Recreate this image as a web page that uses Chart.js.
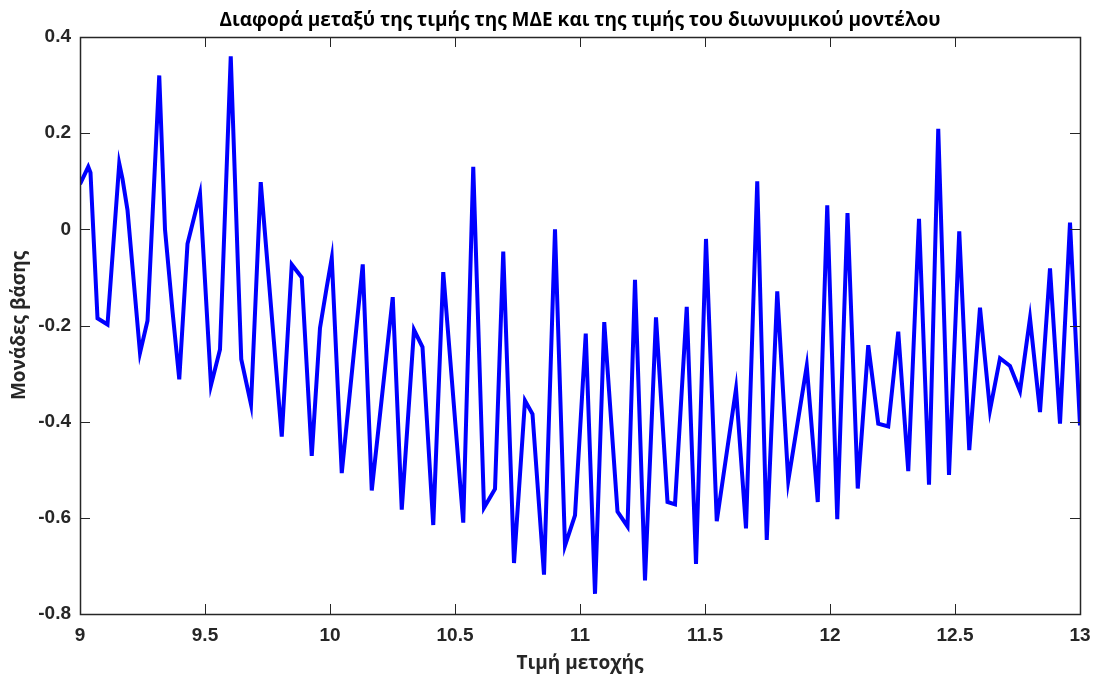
<!DOCTYPE html>
<html>
<head>
<meta charset="utf-8">
<script src="https://cdn.jsdelivr.net/npm/chart.js@4.4.1/dist/chart.umd.min.js"></script>
<style>
  html, body { margin: 0; padding: 0; background: #fff; }
  #wrap { width: 1095px; height: 680px; }
</style>
</head>
<body>
<div id="wrap"><canvas id="chart"></canvas></div>
<script>
// τιμή μετοχής (άξονας x)
const price = [
  9.000, 9.033, 9.042, 9.070, 9.110, 9.157, 9.170, 9.190, 9.240, 9.270,
  9.317, 9.340, 9.370, 9.397, 9.430, 9.480, 9.524, 9.560, 9.603, 9.630,
  9.645, 9.684, 9.723, 9.807, 9.847, 9.887, 9.927, 9.960, 9.987, 10.007,
  10.047, 10.131, 10.167, 10.251, 10.287, 10.336, 10.370, 10.413, 10.453, 10.533,
  10.573, 10.616, 10.660, 10.693, 10.736, 10.780, 10.810, 10.856, 10.900, 10.940,
  10.980, 11.023, 11.060, 11.097, 11.150, 11.190, 11.220, 11.260, 11.304, 11.350,
  11.380, 11.427, 11.464, 11.504, 11.547, 11.624, 11.664, 11.709, 11.747, 11.789,
  11.833, 11.907, 11.951, 11.989, 12.029, 12.070, 12.111, 12.153, 12.193, 12.233,
  12.273, 12.313, 12.356, 12.396, 12.433, 12.476, 12.517, 12.557, 12.600, 12.640,
  12.680, 12.720, 12.760, 12.800, 12.840, 12.880, 12.920, 12.960, 13.000
];

// διαφορά ΜΔΕ - διωνυμικού (μονάδες βάσης)
const diff = [
  0.094, 0.130, 0.118, -0.185, -0.198, 0.137, 0.105, 0.040, -0.257, -0.190,
  0.320, 0.000, -0.170, -0.312, -0.030, 0.074, -0.324, -0.250, 0.360, -0.050,
  -0.270, -0.364, 0.098, -0.431, -0.073, -0.100, -0.471, -0.205, -0.120, -0.060,
  -0.507, -0.073, -0.543, -0.141, -0.583, -0.209, -0.245, -0.615, -0.089, -0.610,
  0.130, -0.579, -0.540, -0.046, -0.694, -0.356, -0.384, -0.718, 0.000, -0.658,
  -0.595, -0.217, -0.758, -0.193, -0.587, -0.618, -0.105, -0.730, -0.183, -0.567,
  -0.572, -0.161, -0.696, -0.020, -0.607, -0.332, -0.622, 0.100, -0.646, -0.129,
  -0.523, -0.284, -0.567, 0.050, -0.603, 0.034, -0.539, -0.241, -0.404, -0.410,
  -0.213, -0.503, 0.022, -0.531, 0.209, -0.511, -0.004, -0.459, -0.163, -0.376,
  -0.268, -0.284, -0.336, -0.185, -0.380, -0.081, -0.404, 0.014, -0.408
];

const xTicks = [9, 9.5, 10, 10.5, 11, 11.5, 12, 12.5, 13];
const yTicks = [-0.8, -0.6, -0.4, -0.2, 0, 0.2, 0.4];

const AXIS_COLOR = "#262626";
const NUM_FONT = "'Liberation Sans', Arial, Helvetica, sans-serif";
const TXT_FONT = "'Open Sans', 'Noto Sans', sans-serif";
const TICK_LEN = 10;

// πλαίσιο + εσωτερικά ticks σε όλες τις πλευρές (όπως box on)
const frameTicks = {
  id: "frameTicks",
  afterDatasetsDraw(chart) {
    const { ctx, chartArea: a, scales } = chart;
    ctx.save();
    ctx.strokeStyle = AXIS_COLOR;
    ctx.lineWidth = 1;
    ctx.beginPath();
    scales.x.ticks.forEach((t) => {
      const px = Math.round(scales.x.getPixelForValue(t.value)) + 0.5;
      ctx.moveTo(px, a.bottom);
      ctx.lineTo(px, a.bottom - TICK_LEN);
      ctx.moveTo(px, a.top);
      ctx.lineTo(px, a.top + TICK_LEN);
    });
    scales.y.ticks.forEach((t) => {
      const py = Math.round(scales.y.getPixelForValue(t.value)) + 0.5;
      ctx.moveTo(a.left, py);
      ctx.lineTo(a.left + TICK_LEN, py);
      ctx.moveTo(a.right, py);
      ctx.lineTo(a.right - TICK_LEN, py);
    });
    ctx.stroke();
    ctx.lineWidth = 1.5;
    ctx.strokeRect(
      Math.round(a.left) + 0.5,
      Math.round(a.top) + 0.5,
      Math.round(a.width),
      Math.round(a.height)
    );
    ctx.restore();
  },
};

const points = price.map((x, i) => ({ x, y: diff[i] }));

new Chart(document.getElementById("chart"), {
  type: "scatter",
  data: {
    datasets: [
      {
        label: "Διαφορά",
        data: points,
        showLine: true,
        borderColor: "#0000ff",
        backgroundColor: "#0000ff",
        borderWidth: 4,
        pointRadius: 0,
        tension: 0,
      },
    ],
  },
  options: {
    responsive: true,
    maintainAspectRatio: false,
    animation: false,
    devicePixelRatio: 1,
    layout: { padding: { left: 7, right: 15, top: 8, bottom: 5 } },
    plugins: {
      legend: { display: false },
      tooltip: { enabled: false },
      title: {
        display: true,
        fullSize: false,
        text: "Διαφορά μεταξύ της τιμής της ΜΔΕ και της τιμής του διωνυμικού μοντέλου",
        color: "#000",
        font: { family: TXT_FONT, size: 19, weight: "bold", lineHeight: 1.2 },
        padding: { top: 1, bottom: 5.2 },
      },
    },
    scales: {
      x: {
        type: "linear",
        min: 9,
        max: 13,
        grid: { display: false, drawTicks: false },
        border: { display: false },
        afterBuildTicks: (s) => { s.ticks = xTicks.map((v) => ({ value: v })); },
        afterFit: (s) => { s.height = 61; s.paddingLeft = 0; s.paddingRight = 0; },
        ticks: {
          color: AXIS_COLOR,
          padding: 10,
          maxRotation: 0,
          font: { family: NUM_FONT, size: 19, weight: "bold" },
          callback: (v) => String(v),
        },
        title: {
          display: true,
          text: "Τιμή μετοχής",
          color: AXIS_COLOR,
          font: { family: TXT_FONT, size: 19, weight: "bold", lineHeight: 1.2 },
          padding: { top: 0, bottom: 0 },
        },
      },
      y: {
        type: "linear",
        min: -0.8,
        max: 0.4,
        grid: { display: false, drawTicks: false },
        border: { display: false },
        afterBuildTicks: (s) => { s.ticks = yTicks.map((v) => ({ value: v })); },
        afterFit: (s) => { s.width = 73; s.paddingTop = 0; s.paddingBottom = 0; },
        ticks: {
          color: AXIS_COLOR,
          padding: 9,
          font: { family: NUM_FONT, size: 19, weight: "bold" },
          callback: (v) => String(Math.round(v * 10) / 10),
        },
        title: {
          display: true,
          text: "Μονάδες βάσης",
          color: AXIS_COLOR,
          font: { family: TXT_FONT, size: 19, weight: "bold", lineHeight: 1.2 },
          padding: { top: 1, bottom: 0 },
        },
      },
    },
  },
  plugins: [frameTicks],
});
</script>
</body>
</html>
